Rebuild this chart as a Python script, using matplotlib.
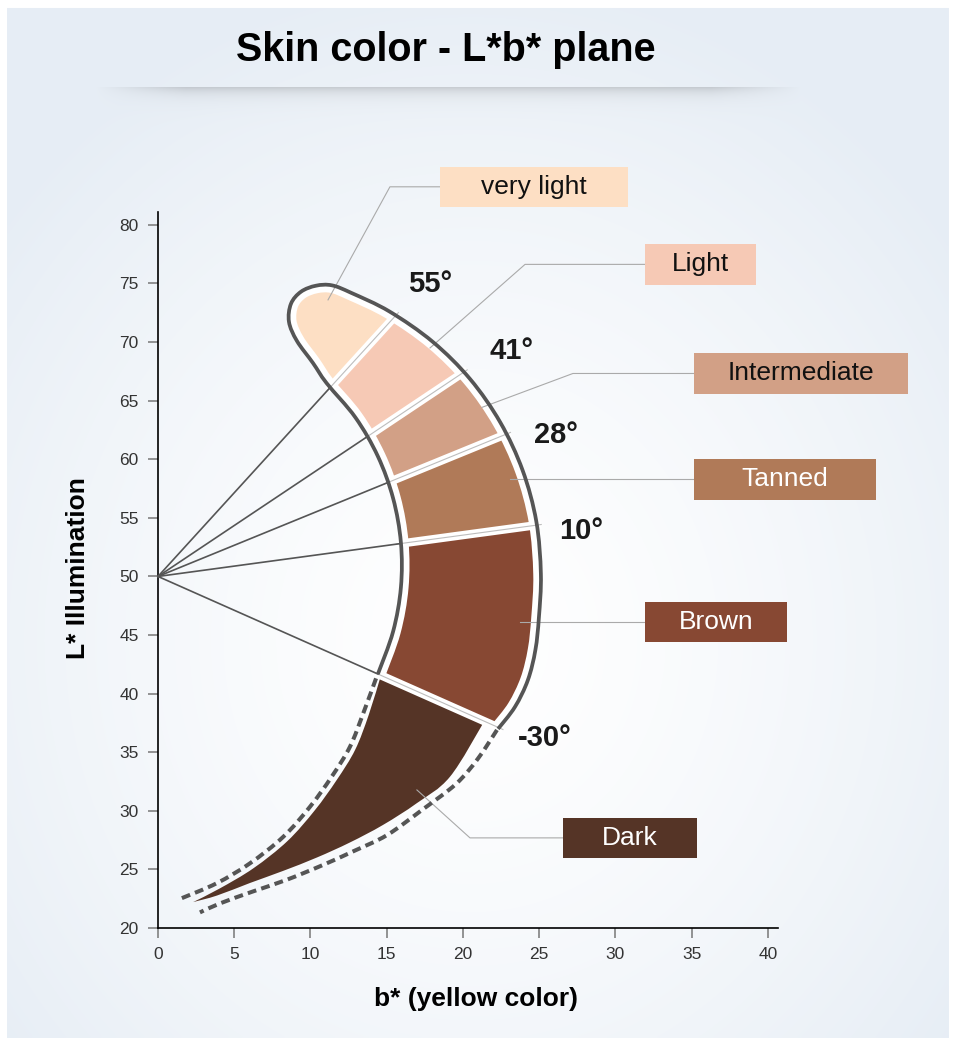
import numpy as np
import matplotlib
matplotlib.use("Agg")
import matplotlib.pyplot as plt
from matplotlib.path import Path
from matplotlib.patches import PathPatch, Polygon, Rectangle

plt.rcParams['font.family'] = ['Liberation Sans', 'DejaVu Sans']

# skin classes from light to dark, and hue angles that separate them
categories = ["very light", "Light", "Intermediate", "Tanned", "Brown", "Dark"]
border_angles = [55, 41, 28, 10, -30]
colors = ["#fddfc4", "#f6c9b5", "#d2a086", "#b07a58", "#874833", "#553426"]
text_colors = ["#111111", "#111111", "#111111", "white", "white", "white"]

# origin of the hue fan (b*, L*)
origin_b = 0.0
origin_L = 50.0

# boundary of the measured region: inner edge (bottom up) -> tip -> outer edge (top down)
outline_b = [14.42, 15.42, 15.93, 15.93, 15.42, 14.42, 12.95, 11.06, 10.16,
             9.11, 8.59, 8.72, 9.38, 10.36, 11.41, 12.69, 15.18, 18.02, 20.47, 22.45,
             23.91, 24.81, 25.11, 24.98, 24.75, 24.26, 23.41, 22.30]
outline_L = [41.67, 45.31, 49.07, 52.89, 56.66, 60.25, 63.56, 66.49, 68.22,
             70.10, 71.72, 73.27, 74.30, 74.81, 74.84, 74.19, 72.61, 70.02, 66.84, 63.14,
             59.06, 54.70, 50.21, 46.50, 43.73, 41.17, 38.87, 36.99]

# dark tail (below -30 deg): upper edge down to the tip, lower edge back up
dark_upper_b = [14.62, 13.82, 12.93, 11.72, 10.28, 8.49, 6.26, 4.03, 2.30]
dark_upper_L = [None, 38.19, 35.21, 32.63, 30.04, 27.42, 25.10, 23.36, 22.21]
dark_lower_b = [2.30, 3.87, 6.03, 8.20, 10.43, 12.59, 14.75, 16.96, 19.15, 21.40]
dark_lower_L = [22.21, 22.77, 23.84, 24.87, 26.02, 27.30, 28.79, 30.64, 32.91, None]

# dashed extension around the dark tail
dash_outer_b = [22.23, 20.98, 19.54, 17.31, 15.02, 12.85, 10.66, 8.39, 6.23, 4.07, 2.75]
dash_outer_L = [36.90, 34.45, 32.29, 30.07, 27.93, 26.57, 25.29, 24.09, 23.12, 22.10, 21.33]
dash_inner_b = [14.30, 13.46, 12.59, 11.39, 9.97, 8.22, 6.03, 3.85, 1.55]
dash_inner_L = [41.30, 38.32, 35.47, 32.91, 30.35, 27.79, 25.52, 23.82, 22.54]

x_ticks = [0, 5, 10, 15, 20, 25, 30, 35, 40]
y_ticks = [20, 25, 30, 35, 40, 45, 50, 55, 60, 65, 70, 75, 80]


def ray_L(b, ang):
    return origin_L + (b - origin_b) * np.tan(np.radians(ang))


def catmull_rom(pts):
    pts = np.asarray(pts, float)
    ext = np.vstack([pts[0], pts, pts[-1]])
    verts = []
    for i in range(1, len(ext) - 2):
        p0, p1, p2, p3 = ext[i - 1], ext[i], ext[i + 1], ext[i + 2]
        verts += [p1 + (p2 - p0) / 6, p2 - (p3 - p1) / 6, p2]
    return verts


def smooth_path(pts):
    verts = [tuple(pts[0])] + catmull_rom(pts)
    codes = [Path.MOVETO] + [Path.CURVE4] * (len(verts) - 1)
    return verts, codes


def wedge(a1, a2, R=60):
    a = np.radians(np.linspace(a1, a2, 80))
    return np.vstack([[origin_b, origin_L],
                      np.c_[origin_b + R * np.cos(a), origin_L + R * np.sin(a)]])


fig = plt.figure(figsize=(9.55, 10.44), dpi=100)
fig.patch.set_facecolor("white")

# background: soft blue gradient with title shadow
H, W = 1044, 955
yy, xx = np.mgrid[0:H, 0:W]
d = np.hypot((xx - 470) / 600.0, (yy - 640) / 660.0)
t = np.clip(d, 0, 1) ** 1.4
edge = np.array([0.905, 0.932, 0.962])
bg = 1 - t[..., None] * (1 - edge)
win = np.clip((xx - 95) / 90.0, 0, 1) * np.clip((800 - xx) / 90.0, 0, 1)
sh = np.where(yy >= 87, np.exp(-(yy - 87) / 7.0), 0.0) * win
bg = bg * (1 - 0.15 * sh[..., None])
bg[:8, :] = 1
bg[-6:, :] = 1
bg[:, :7] = 1
bg[:, -7:] = 1
bax = fig.add_axes([0, 0, 1, 1], zorder=-5)
bax.imshow(bg, aspect="auto", interpolation="bilinear")
bax.axis("off")

ax = fig.add_axes([158 / 955, 116 / 1044, 620 / 955, 716 / 1044])
ax.set_facecolor("none")
ax.set_xlim(0, 40.66)
ax.set_ylim(20, 81.1)
for s in ["top", "right"]:
    ax.spines[s].set_visible(False)
for s in ["left", "bottom"]:
    ax.spines[s].set_linewidth(1.2)
    ax.spines[s].set_color("black")
ax.set_xticks(x_ticks)
ax.set_yticks(y_ticks)
ax.tick_params(direction="out", length=7, width=1.1, color="#777777",
               labelsize=12.5, labelcolor="#333333", pad=7)

# outline of the measured region
opts = np.c_[outline_b, outline_L]
ov, oc = smooth_path(opts)
outline_path = Path(ov, oc)
mid = (opts[0] + opts[-1]) / 2
closed = Path(ov + [(mid[0], mid[1] - 2.0), tuple(opts[0]), (0, 0)],
              oc + [Path.LINETO, Path.LINETO, Path.CLOSEPOLY])
clip_patch = PathPatch(closed, transform=ax.transData)

# colored segments
seg_limits = [(55, 200), (41, 55), (28, 41), (10, 28), (-30, 10)]
for (a1, a2), c in zip(seg_limits, colors[:5]):
    p = Polygon(wedge(a1, a2), closed=True, facecolor=c, edgecolor="none", zorder=2)
    ax.add_patch(p)
    p.set_clip_path(clip_patch)

# dark tail
up = np.c_[dark_upper_b, [ray_L(dark_upper_b[0], -30)] + dark_upper_L[1:]]
lo = np.c_[dark_lower_b, dark_lower_L[:-1] + [ray_L(dark_lower_b[-1], -30)]]
uv, uc = smooth_path(up)
lv, lc = smooth_path(lo)
dark_path = Path(uv + lv[1:] + [(0, 0)], uc + lc[1:] + [Path.CLOSEPOLY])
ax.add_patch(PathPatch(dark_path, facecolor=colors[5], edgecolor="none", zorder=2))

# rays
r = np.linspace(0, 40, 4001)
for ang in border_angles:
    cs, sn = np.cos(np.radians(ang)), np.sin(np.radians(ang))
    pts = np.c_[origin_b + r * cs, origin_L + r * sn]
    inside = np.nonzero(closed.contains_points(pts))[0]
    r_in, r_out = r[inside[0]], r[inside[-1]]
    gb = [origin_b + (r_in - 0.3) * cs, origin_b + (r_out + 0.3) * cs]
    gl = [origin_L + (r_in - 0.3) * sn, origin_L + (r_out + 0.3) * sn]
    ax.plot(gb, gl, color="white", lw=6, solid_capstyle="butt", zorder=3)
    ax.plot(gb, gl, color="#bdbdbd", lw=0.8, zorder=5)
    ax.plot([origin_b, origin_b + r_in * cs], [origin_L, origin_L + r_in * sn],
            color="#555555", lw=1.2, zorder=5, clip_on=False)

halo = PathPatch(outline_path, facecolor="none", edgecolor="white",
                 lw=11, capstyle="butt", zorder=4)
ax.add_patch(halo)
halo.set_clip_path(clip_patch)
ax.add_patch(PathPatch(outline_path, facecolor="none", edgecolor="#555555",
                       lw=2.7, capstyle="butt", zorder=6))

for bs, ls in [(dash_outer_b, dash_outer_L), (dash_inner_b, dash_inner_L)]:
    v, c = smooth_path(np.c_[bs, ls])
    ax.add_patch(PathPatch(Path(v, c), facecolor="none", edgecolor="#555555",
                           lw=2.9, linestyle=(0, (2.2, 1.3)), capstyle="butt", zorder=6))

# angle labels
angle_pos = [(17.84, 74.93), (23.21, 69.23), (26.1, 62.08), (27.74, 53.9), (25.38, 36.2)]
for ang, (bx, ly) in zip(border_angles, angle_pos):
    ax.text(bx, ly, f"{ang}°", fontsize=21, fontweight="bold", color="#1a1a1a",
            ha="center", va="center", zorder=8)

# category boxes with leader lines
boxes = [(18.49, 30.82, 81.53, 84.95), (31.93, 39.21, 74.88, 78.38),
         (35.15, 49.18, 65.57, 69.07), (35.15, 47.08, 56.53, 60.03),
         (31.93, 41.25, 44.41, 47.82), (26.56, 35.34, 25.98, 29.39)]
leaders = [[(18.49, 83.25), (15.21, 83.25), (11.15, 73.6)],
           [(31.93, 76.63), (24.07, 76.63), (17.84, 69.5)],
           [(35.15, 67.32), (27.21, 67.32), (21.25, 64.43)],
           [(35.15, 58.28), (23.08, 58.28)],
           [(31.93, 46.12), (23.74, 46.12)],
           [(26.56, 27.69), (20.46, 27.69), (16.98, 31.78)]]
for name, c, tc, (x0, x1, y0, y1), ld in zip(categories, colors, text_colors, boxes, leaders):
    ax.add_patch(Rectangle((x0, y0), x1 - x0, y1 - y0, facecolor=c, edgecolor="none",
                           zorder=7, clip_on=False))
    ax.text((x0 + x1) / 2, (y0 + y1) / 2, name, fontsize=19, color=tc,
            ha="center", va="center", zorder=8)
    lx, lyy = zip(*ld)
    ax.plot(lx, lyy, color="#aaaaaa", lw=0.8, zorder=5, clip_on=False)

fig.text(446 / 955, 1 - 61 / 1044, "Skin color - L*b* plane", fontsize=28.5,
         fontweight="bold", ha="center", va="baseline")
fig.text(476 / 955, 1 - 1006 / 1044, "b* (yellow color)", fontsize=19,
         fontweight="bold", ha="center", va="baseline")
fig.text(78 / 955, 1 - 568 / 1044, "L* Illumination", fontsize=19,
         fontweight="bold", ha="center", va="center", rotation=90)

fig.savefig("out.png", dpi=100, facecolor=fig.get_facecolor())
